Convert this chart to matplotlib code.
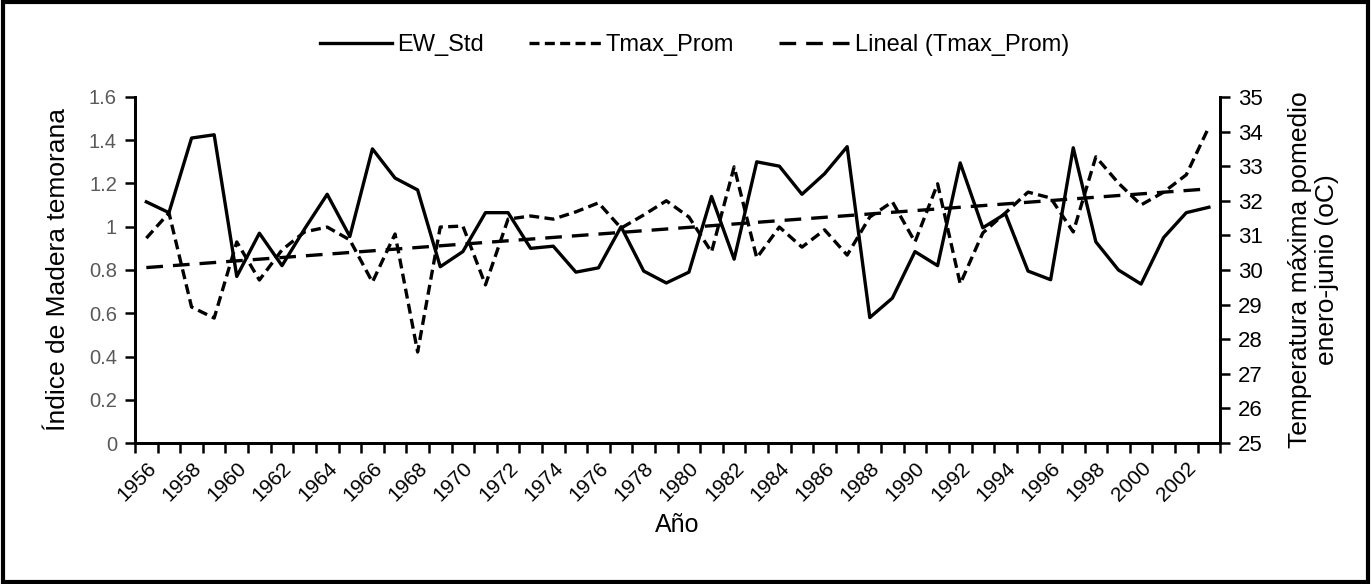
import numpy as np
import matplotlib
matplotlib.use("Agg")
from matplotlib import pyplot as plt
from matplotlib.patches import Rectangle
from matplotlib.ticker import FixedLocator, FuncFormatter

plt.rcParams['font.family'] = ['Liberation Sans', 'DejaVu Sans']

years = list(range(1956, 2004))

ew_std = [1.115, 1.065, 1.41, 1.425, 0.77, 0.97, 0.82, 0.99, 1.15, 0.955,
          1.36, 1.225, 1.17, 0.815, 0.885, 1.065, 1.065, 0.90, 0.91, 0.79,
          0.81, 1.0, 0.795, 0.74, 0.79, 1.14, 0.85, 1.30, 1.28, 1.15,
          1.245, 1.37, 0.58, 0.67, 0.885, 0.82, 1.295, 0.995, 1.06, 0.795,
          0.755, 1.365, 0.93, 0.80, 0.735, 0.95, 1.065, 1.09]

tmax_prom = [30.92, 31.65, 28.93, 28.61, 30.81, 29.71, 30.58, 31.10, 31.24, 30.87,
             29.65, 31.04, 27.63, 31.24, 31.27, 29.57, 31.47, 31.56, 31.47, 31.68,
             31.94, 31.21, 31.59, 32.00, 31.53, 30.52, 32.98, 30.35, 31.24, 30.66,
             31.16, 30.43, 31.53, 31.97, 30.81, 32.49, 29.60, 31.07, 31.65, 32.25,
             32.08, 31.10, 33.27, 32.51, 31.88, 32.25, 32.75, 34.13]

labels = ["EW_Std", "Tmax_Prom", "Lineal (Tmax_Prom)"]

x = np.arange(len(years))
coef = np.polyfit(x, tmax_prom, 1)  # linear trendline like Excel
trend = np.polyval(coef, x)

fig = plt.figure(figsize=(13.71, 5.84), dpi=100)
ax = fig.add_axes([0.0985, 0.2414, 0.7915, 0.5926])
ax2 = ax.twinx()

l1, = ax.plot(x, ew_std, color="black", lw=2.4)
l2, = ax2.plot(x, tmax_prom, color="black", lw=2.4, linestyle=(0, (3, 1.6)))
l3, = ax2.plot(x, trend, color="black", lw=2.4, linestyle=(0, (5, 3)))

ax.set_xlim(-0.5, len(years) - 0.5)
ax.set_ylim(0, 1.6)
ax2.set_ylim(25, 35)
ax.set_yticks(np.arange(0, 1.61, 0.2))
ax.yaxis.set_major_formatter(FuncFormatter(lambda v, p: "{:g}".format(round(v, 1))))
ax2.set_yticks(range(25, 36))

ax.set_xticks(x[::2])
ax.set_xticklabels([str(y) for y in years[::2]], rotation=45, ha="right",
                   va="top", rotation_mode="anchor", fontsize=15)
ax.xaxis.set_minor_locator(FixedLocator(np.arange(-0.5, len(years), 1)))
ax.tick_params(axis="x", which="major", length=0, pad=11)
ax.tick_params(axis="x", which="minor", length=7, width=1.8, direction="out")
ax.tick_params(axis="y", length=7, width=1.8, labelsize=14.5, labelcolor="#595959", pad=6)
ax2.tick_params(axis="y", length=7, width=1.8, labelsize=16, pad=6)

for a in (ax, ax2):
    a.spines["top"].set_visible(False)
    for s in ("left", "right", "bottom"):
        a.spines[s].set_linewidth(2)

ax.set_xlabel("Año", fontsize=18, labelpad=6)
ax.set_ylabel("Índice de Madera temorana", fontsize=19, labelpad=14)
ax2.set_ylabel("Temperatura máxima pomedio\nenero-junio (oC)", fontsize=19,
               labelpad=18, linespacing=1.15)

fig.legend([l1, l2, l3], labels, loc="center", bbox_to_anchor=(0.507, 0.923),
           ncol=3, frameon=False, fontsize=17, handlelength=3.05,
           handletextpad=0.2, columnspacing=1.9)

fig.patches.append(Rectangle((0.002, 0.004), 0.996, 0.992, transform=fig.transFigure,
                             fill=False, edgecolor="black", linewidth=3))

fig.savefig("out.png", dpi=100)
